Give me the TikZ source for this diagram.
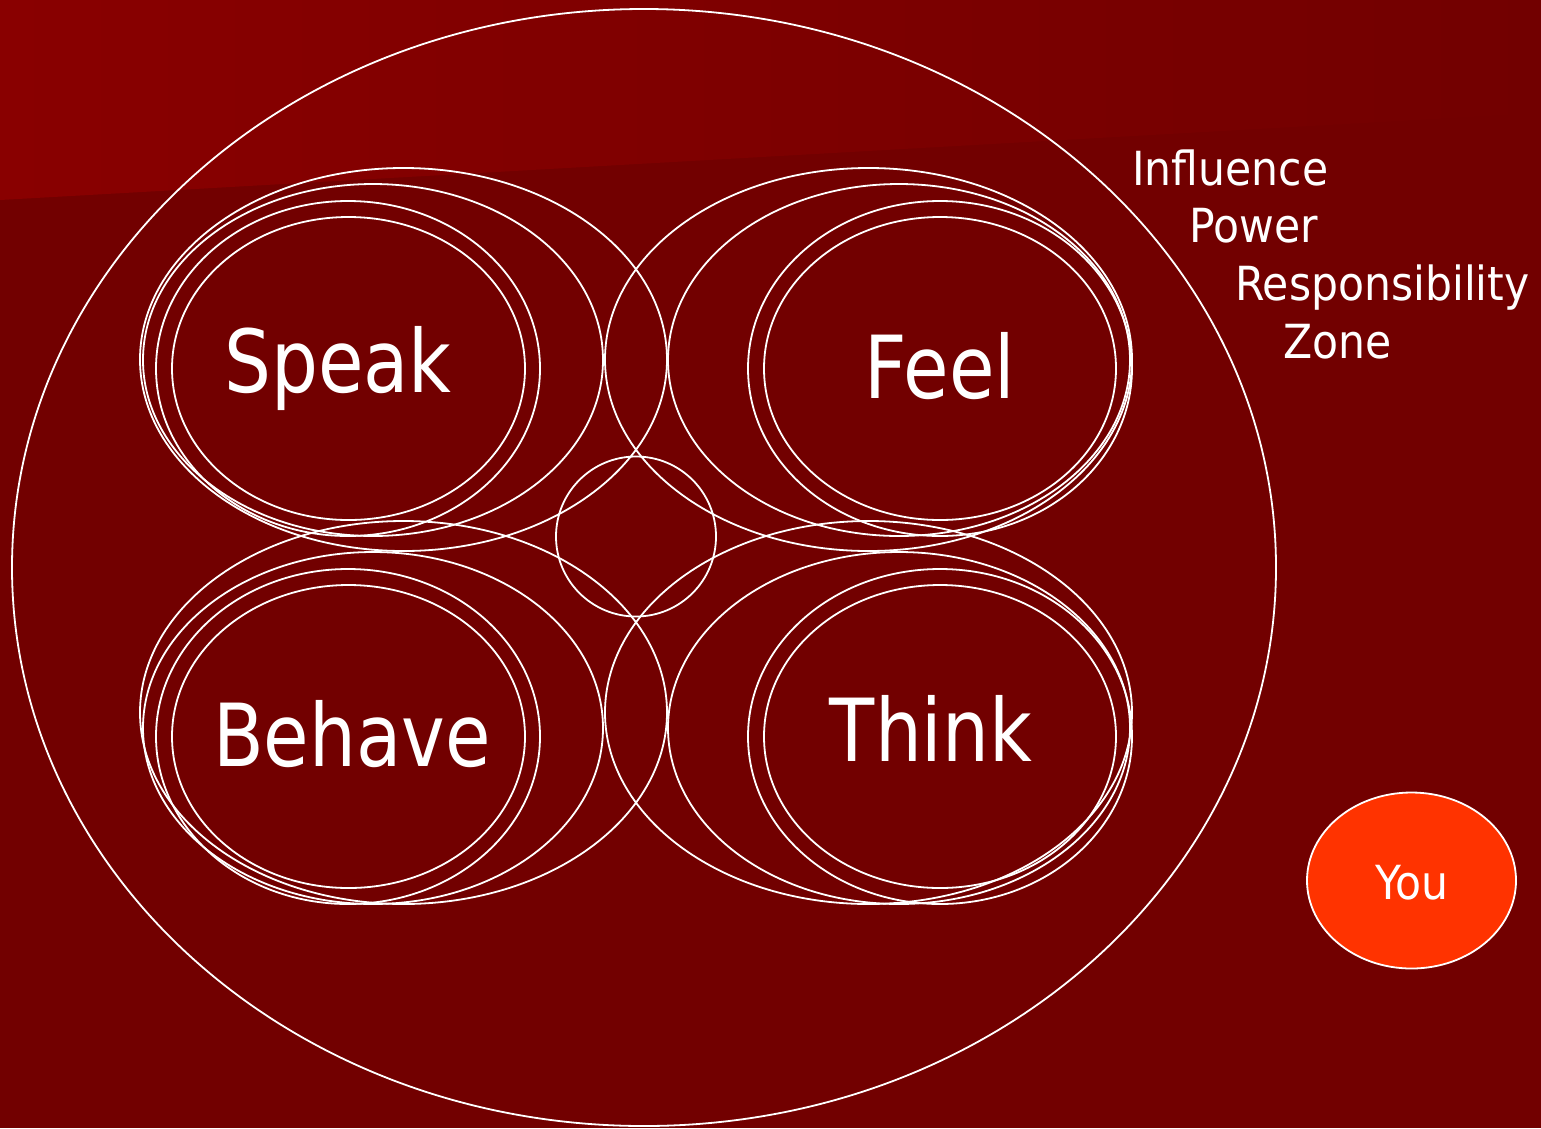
\documentclass[tikz,border=0pt]{standalone}
\usepackage{fontspec}
\setmainfont{DejaVu Sans}[FakeStretch=0.85]
\newfontfamily\zonefont{DejaVu Sans}[FakeStretch=0.905]
\usepackage{tikz}
\usetikzlibrary{shapes.geometric}
\definecolor{bgdark}{RGB}{114,0,0}
\definecolor{bglight}{RGB}{137,0,0}
\definecolor{youfill}{RGB}{255,51,0}
\tikzstyle{ring} = [ellipse, draw=white, line width=1.8pt, inner sep=0pt]
\tikzstyle{act} = [anchor=base, inner sep=0pt, text=white, font=\fontsize{87}{87}\selectfont]
\tikzstyle{zone} = [anchor=base west, inner sep=0pt, text=white, font=\zonefont\fontsize{47}{47}\selectfont]
\tikzstyle{you} = [ellipse, draw=white, line width=1.8pt, fill=youfill, inner sep=0pt, minimum width=209pt, minimum height=176pt]

\begin{document}
\begin{tikzpicture}[x=1pt,y=-1pt]
        \useasboundingbox (0,0) rectangle (1541,1128);
        \fill[bgdark] (0,0) rectangle (1541,1128);
        \shade[left color=bglight, right color=bgdark] (0,0)--(1541,0)--(1541,113)--(0,200)--cycle;
        \node(outer) [ring, minimum width=1264pt, minimum height=1117pt] at (644,567.5) {};
        % speak rings
        \node(speak1) [ring, minimum width=527pt, minimum height=383pt] at (403.5,359.5) {};
        \node(speak2) [ring, minimum width=460pt, minimum height=352pt] at (373,360) {};
        \node(speak3) [ring, minimum width=384pt, minimum height=335pt] at (348,368.5) {};
        \node(speak4) [ring, minimum width=353pt, minimum height=303pt] at (348.5,368.5) {};
        % feel rings
        \node(feel1) [ring, minimum width=527pt, minimum height=383pt] at (868.5,359.5) {};
        \node(feel2) [ring, minimum width=462pt, minimum height=352pt] at (899,360) {};
        \node(feel3) [ring, minimum width=384pt, minimum height=335pt] at (940,368.5) {};
        \node(feel4) [ring, minimum width=352pt, minimum height=303pt] at (940,368.5) {};
        % behave rings
        \node(behave1) [ring, minimum width=527pt, minimum height=383pt] at (403.5,712.5) {};
        \node(behave2) [ring, minimum width=460pt, minimum height=352pt] at (373,728) {};
        \node(behave3) [ring, minimum width=384pt, minimum height=335pt] at (348,736.5) {};
        \node(behave4) [ring, minimum width=353pt, minimum height=303pt] at (348.5,736.5) {};
        % think rings
        \node(think1) [ring, minimum width=527pt, minimum height=383pt] at (868.5,712.5) {};
        \node(think2) [ring, minimum width=462pt, minimum height=352pt] at (899,728) {};
        \node(think3) [ring, minimum width=384pt, minimum height=335pt] at (940,736.5) {};
        \node(think4) [ring, minimum width=352pt, minimum height=303pt] at (940,736.5) {};
        \node(hub) [ring, minimum width=160pt, minimum height=160pt] at (636,536.5) {};
        % labels
        \node(speak) [act] at (338,392) {Speak};
        \node(feel) [act] at (940,398) {Feel};
        \node(behave) [act] at (352,766) {Behave};
        \node(think) [act] at (931,761) {Think};
        \node(influence) [zone] at (1132,185) {Influence};
        \node(power) [zone] at (1189,242) {Power};
        \node(resp) [zone] at (1235,300) {Responsibility};
        \node(zonetxt) [zone] at (1283,358) {Zone};
        \node(youring) [you] at (1411.5,880.5) {};
        \node(you) [act, font=\zonefont\fontsize{47}{47}\selectfont] at (1412,899) {You};
    \end{tikzpicture}
\end{document}
